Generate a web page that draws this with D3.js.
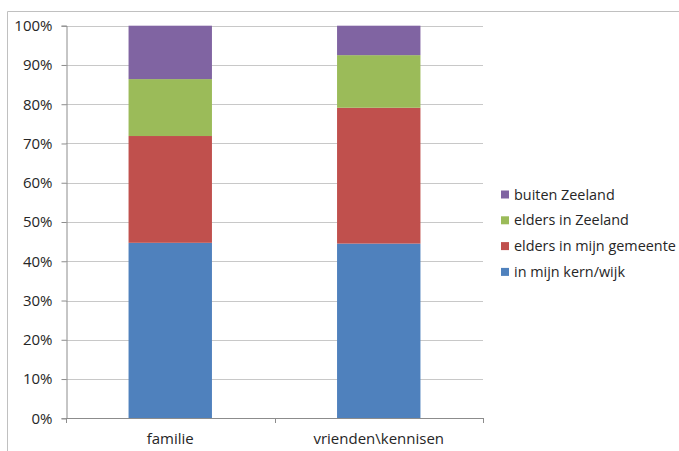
<!DOCTYPE html>
<html><head><meta charset="utf-8">
<script src="https://cdn.jsdelivr.net/npm/d3@7"></script>
<style>body{margin:0;background:#fff}svg{display:block}text{font-family:"Open Sans",sans-serif;fill:#262626}</style>
</head><body><svg id="c" width="679" height="451"></svg>
<script>
const categories = ["familie", "vrienden\\kennisen"];
const seriesNames = ["in mijn kern/wijk", "elders in mijn gemeente", "elders in Zeeland", "buiten Zeeland"];
const seriesColors = ["#4F81BD", "#C0504D", "#9BBB59", "#8064A2"];
const kernWijk = [44.7, 44.5];
const eldersGemeente = [27.2, 34.6];
const eldersZeeland = [14.5, 13.4];
const buitenZeeland = [13.6, 7.5];
const yTicks = [0, 10, 20, 30, 40, 50, 60, 70, 80, 90, 100];

const series = [kernWijk, eldersGemeente, eldersZeeland, buitenZeeland];
const rows = categories.map((c, i) => {
  const r = {cat: c};
  seriesNames.forEach((s, j) => r[s] = series[j][i]);
  return r;
});
const stacked = d3.stack().keys(seriesNames)(rows);

const svg = d3.select("#c");
const L = 66, R = 483, T = 25.7, B = 418.3;
const x = d3.scaleBand().domain(categories).range([L, R]).paddingInner(0.6).paddingOuter(0.3);
const y = d3.scaleLinear().domain([0, 100]).range([B, T]);

// outer frame
svg.append("path").attr("d", "M7.5,451 V11.5 H679").attr("fill", "none").attr("stroke", "#c0c0c0");

// grid
svg.append("g").selectAll("line").data(yTicks.filter(d => d > 0)).join("line")
  .attr("x1", L).attr("x2", R).attr("y1", d => Math.round(y(d)) + 0.5).attr("y2", d => Math.round(y(d)) + 0.5)
  .attr("stroke", "#c8c8c8");

// bars
svg.append("g").selectAll("g").data(stacked).join("g")
  .attr("fill", (d, i) => seriesColors[i])
  .selectAll("rect").data(d => d).join("rect")
  .attr("x", d => x(d.data.cat)).attr("width", x.bandwidth())
  .attr("y", d => y(d[1])).attr("height", d => y(d[0]) - y(d[1]));

// y axis
const ya = svg.append("g").attr("transform", `translate(${L + 0.5},0)`)
  .call(d3.axisLeft(y).tickValues(yTicks).tickFormat(d => d + "%").tickSize(5).tickPadding(9));
ya.select(".domain").attr("stroke", "#8c8c8c");
ya.selectAll(".tick line").attr("stroke", "#8c8c8c");
ya.selectAll("text").style("font-size", "15px").attr("fill", "#262626").attr("font-family", "'Open Sans',sans-serif");

// x axis
const xa = svg.append("g").attr("transform", `translate(0,${Math.round(B) + 0.5})`)
  .call(d3.axisBottom(x).tickSize(0).tickPadding(15));
xa.select(".domain").attr("stroke", "#8c8c8c").attr("d", `M${L},0H${R}`);
xa.selectAll("text").style("font-size", "15px").attr("fill", "#262626").attr("font-family", "'Open Sans',sans-serif");
svg.append("g").selectAll("line").data([L, (L + R) / 2, R]).join("line")
  .attr("x1", d => Math.round(d) + 0.5).attr("x2", d => Math.round(d) + 0.5)
  .attr("y1", Math.round(B)).attr("y2", Math.round(B) + 5).attr("stroke", "#8c8c8c");

// legend
const lg = svg.append("g").selectAll("g").data(seriesNames.slice().reverse()).join("g")
  .attr("transform", (d, i) => `translate(501,${194.5 + i * 25.8})`);
lg.append("rect").attr("x", 0).attr("y", -4).attr("width", 8).attr("height", 8)
  .attr("fill", d => seriesColors[seriesNames.indexOf(d)]);
lg.append("text").attr("x", 13).attr("dy", "0.35em").style("font-size", "14.4px").text(d => d);
</script></body></html>
